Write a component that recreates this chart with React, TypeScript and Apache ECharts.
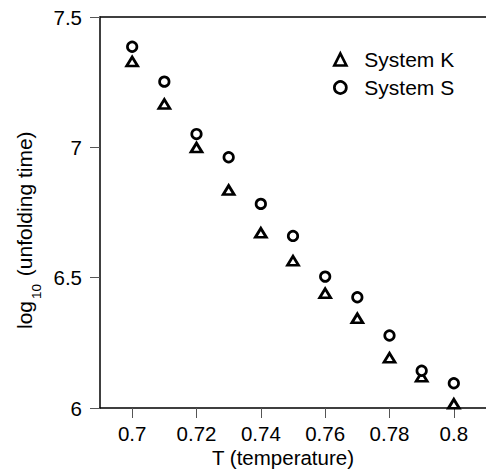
import React, { useEffect, useRef } from "react";
import * as echarts from "echarts";

const temperatures = [0.7, 0.71, 0.72, 0.73, 0.74, 0.75, 0.76, 0.77, 0.78, 0.79, 0.8];
const systemK = [7.329, 7.166, 6.999, 6.836, 6.672, 6.565, 6.44, 6.344, 6.193, 6.12, 6.016];
const systemS = [7.386, 7.252, 7.051, 6.962, 6.783, 6.66, 6.504, 6.425, 6.278, 6.143, 6.095];
const xTickValues = [0.7, 0.72, 0.74, 0.76, 0.78, 0.8];
const seriesNames = ["System K", "System S"];
const xTitle = "T (temperature)";
const yTitleMain = "log";
const yTitleSub = "10";
const yTitleRest = " (unfolding time)";

const FONT = "'Liberation Sans', Arial, Helvetica, sans-serif";

export default function App() {
  const ref = useRef<HTMLDivElement>(null);
  useEffect(() => {
    if (!ref.current) return;
    const chart = echarts.init(ref.current, null, { renderer: "svg" });
    const pairs = (ys: number[]) => temperatures.map((t, i) => [t, ys[i]]);
    const markerStyle = { color: "#fff", borderColor: "#000", borderWidth: 2.7, opacity: 1 };
    chart.setOption({
      animation: false,
      backgroundColor: "#fff",
      textStyle: { fontFamily: FONT, color: "#000" },
      grid: { left: 100, top: 17, width: 390, height: 391 },
      legend: {
        orient: "vertical",
        left: 333,
        top: 49,
        itemWidth: 12,
        itemHeight: 12,
        itemGap: 7,
        padding: 0,
        itemStyle: { borderWidth: 2.7, borderColor: "#000", color: "#fff" },
        textStyle: { fontSize: 21, color: "#000", fontFamily: FONT, padding: [0, 0, 0, 13] },
        data: seriesNames,
      },
      xAxis: [
        {
          type: "value",
          min: 0.69,
          max: 0.81,
          interval: 0.01,
          axisLine: { show: true, lineStyle: { color: "#000", width: 1.5 } },
          axisTick: {
            show: true,
            length: 10,
            lineStyle: { color: "#555", width: 1 },
            customValues: xTickValues,
          },
          axisLabel: {
            fontSize: 20.5,
            color: "#000",
            margin: 15,
            fontFamily: FONT,
            customValues: xTickValues,
            formatter: (v: number) => String(Math.round(v * 100) / 100),
          },
          splitLine: { show: false },
        },
        {
          type: "value",
          position: "top",
          min: 0.69,
          max: 0.81,
          axisLine: { show: true, lineStyle: { color: "#000", width: 1.5 } },
          axisTick: { show: false },
          axisLabel: { show: false },
          splitLine: { show: false },
        },
      ],
      yAxis: {
        type: "value",
        min: 6,
        max: 7.5,
        interval: 0.5,
        axisLine: { show: true, lineStyle: { color: "#000", width: 1.5 } },
        axisTick: { show: true, length: 10, lineStyle: { color: "#555", width: 1 } },
        axisLabel: { fontSize: 20.5, color: "#000", margin: 18, fontFamily: FONT },
        splitLine: { show: false },
      },
      graphic: [
        {
          type: "text",
          x: 283,
          y: 457,
          style: {
            text: xTitle,
            font: `20.5px ${FONT}`,
            fill: "#000",
            align: "center",
            verticalAlign: "middle",
          },
        },
        {
          type: "group",
          x: 24,
          y: 229,
          rotation: Math.PI / 2,
          children: [
            {
              type: "text",
              x: -100,
              y: 0,
              style: { text: yTitleMain, font: `21px ${FONT}`, fill: "#000", align: "left", verticalAlign: "middle" },
            },
            {
              type: "text",
              x: -70,
              y: 12,
              style: { text: yTitleSub, font: `13.5px ${FONT}`, fill: "#000", align: "left", verticalAlign: "middle" },
            },
            {
              type: "text",
              x: -53,
              y: 0,
              style: { text: yTitleRest, font: `21px ${FONT}`, fill: "#000", align: "left", verticalAlign: "middle" },
            },
          ],
        },
      ],
      series: [
        {
          name: seriesNames[0],
          type: "scatter",
          data: pairs(systemK),
          symbol: "triangle",
          symbolSize: [11, 9],
          itemStyle: markerStyle,
        },
        {
          name: seriesNames[1],
          type: "scatter",
          data: pairs(systemS),
          symbol: "circle",
          symbolSize: 9.5,
          itemStyle: markerStyle,
        },
      ],
    });
    return () => chart.dispose();
  }, []);
  return (
    <div
      ref={ref}
      style={{ position: "fixed", left: 0, top: 0, width: 486, height: 470, background: "#fff" }}
    />
  );
}
